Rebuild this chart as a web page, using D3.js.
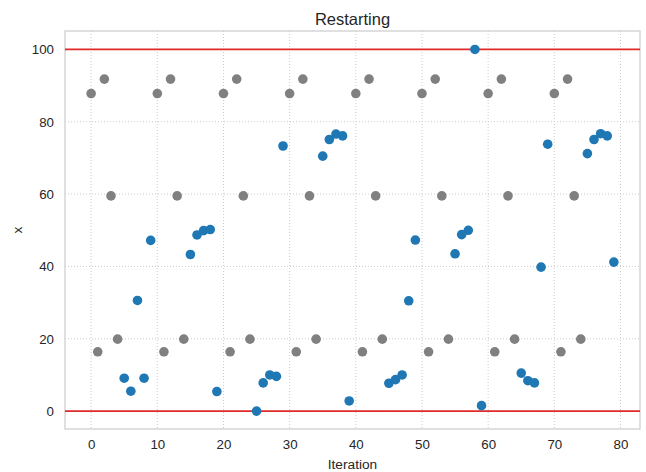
<!DOCTYPE html>
<html>
<head>
<meta charset="utf-8">
<script src="https://cdn.jsdelivr.net/npm/d3@7"></script>
<style>
  body { margin: 0; background: #fff; }
  text { font-family: "Liberation Sans", Arial, sans-serif; fill: #262626; }
</style>
</head>
<body>
<div id="chart"></div>
<script>
// values of x per iteration
var iterations = d3.range(0, 80);
var xValues = [
  87.8, 16.4, 91.8, 59.5, 19.9,  9.1,  5.5, 30.6,  9.1, 47.2,
  87.8, 16.4, 91.8, 59.5, 19.9, 43.3, 48.7, 49.9, 50.2,  5.4,
  87.8, 16.4, 91.8, 59.5, 19.9,  0.0,  7.8, 10.0,  9.6, 73.3,
  87.8, 16.4, 91.8, 59.5, 19.9, 70.5, 75.1, 76.6, 76.1,  2.8,
  87.8, 16.4, 91.8, 59.5, 19.9,  7.7,  8.7, 10.0, 30.5, 47.3,
  87.8, 16.4, 91.8, 59.5, 19.9, 43.5, 48.8, 50.0,100.0,  1.5,
  87.8, 16.4, 91.8, 59.5, 19.9, 10.5,  8.4,  7.8, 39.8, 73.8,
  87.8, 16.4, 91.8, 59.5, 19.9, 71.2, 75.1, 76.7, 76.1, 41.2
];
// iterations that are restart samples (drawn grey)
var restartIters = [0,1,2,3,4, 10,11,12,13,14, 20,21,22,23,24, 30,31,32,33,34,
                    40,41,42,43,44, 50,51,52,53,54, 60,61,62,63,64, 70,71,72,73,74];
var bounds = [0, 100];
var xTicks = [0, 10, 20, 30, 40, 50, 60, 70, 80];
var yTicks = [0, 20, 40, 60, 80, 100];

function init(){
    var w = 646, h = 472;
    var margin = {left: 65, right: 6, top: 31, bottom: 43};

    var svg = d3.select("#chart").append("svg")
        .attr("width", w)
        .attr("height", h);

    var x = d3.scaleLinear().domain([-3.95, 82.95]).range([margin.left, w - margin.right]);
    var y = d3.scaleLinear().domain([-4.95, 105.1]).range([h - margin.bottom, margin.top]);

    // grid
    svg.append("g").selectAll("line").data(xTicks).enter().append("line")
        .attr("x1", d => x(d)).attr("x2", d => x(d))
        .attr("y1", margin.top).attr("y2", h - margin.bottom)
        .attr("stroke", "#cccccc").attr("stroke-width", 1).attr("stroke-dasharray", "1,2");
    svg.append("g").selectAll("line").data(yTicks).enter().append("line")
        .attr("y1", d => y(d)).attr("y2", d => y(d))
        .attr("x1", margin.left).attr("x2", w - margin.right)
        .attr("stroke", "#cccccc").attr("stroke-width", 1).attr("stroke-dasharray", "1,2");

    // axes without tick marks
    var xAxis = svg.append("g")
        .attr("transform", "translate(0," + (h - margin.bottom) + ")")
        .call(d3.axisBottom(x).tickValues(xTicks).tickSize(0).tickPadding(11));
    var yAxis = svg.append("g")
        .attr("transform", "translate(" + margin.left + ",0)")
        .call(d3.axisLeft(y).tickValues(yTicks).tickSize(0).tickPadding(11));
    [xAxis, yAxis].forEach(function(a){
        a.select(".domain").remove();
        a.selectAll("text").style("font-size", "13.3px").attr("fill", "#262626")
         .style("font-family", "\"Liberation Sans\", Arial, sans-serif");
    });

    // frame
    svg.append("rect")
        .attr("x", margin.left).attr("y", margin.top)
        .attr("width", w - margin.left - margin.right)
        .attr("height", h - margin.top - margin.bottom)
        .attr("fill", "none").attr("stroke", "#cccccc").attr("stroke-width", 1.2);

    // bound lines
    svg.append("g").selectAll("line").data(bounds).enter().append("line")
        .attr("x1", margin.left).attr("x2", w - margin.right)
        .attr("y1", d => y(d)).attr("y2", d => y(d))
        .attr("stroke", "#e02a2a").attr("stroke-width", 1.8);

    // points
    var pts = iterations.map(function(i){
        return {it: i, v: xValues[i], restart: restartIters.indexOf(i) >= 0};
    });
    svg.append("g").selectAll("circle").data(pts).enter().append("circle")
        .attr("cx", d => x(d.it))
        .attr("cy", d => y(d.v))
        .attr("r", 4.8)
        .attr("fill", d => d.restart ? "#808080" : "#1f77b4");

    // labels
    svg.append("text").attr("x", (margin.left + w - margin.right) / 2).attr("y", 25)
        .attr("text-anchor", "middle").style("font-size", "16.5px").text("Restarting");
    svg.append("text").attr("x", (margin.left + w - margin.right) / 2).attr("y", 469)
        .attr("text-anchor", "middle").style("font-size", "13.7px").text("Iteration");
    svg.append("text").attr("transform", "translate(22," + ((margin.top + h - margin.bottom) / 2) + ") rotate(-90)")
        .attr("text-anchor", "middle").style("font-size", "13.7px").text("x");
}
window.onload = init;
</script>
</body>
</html>
